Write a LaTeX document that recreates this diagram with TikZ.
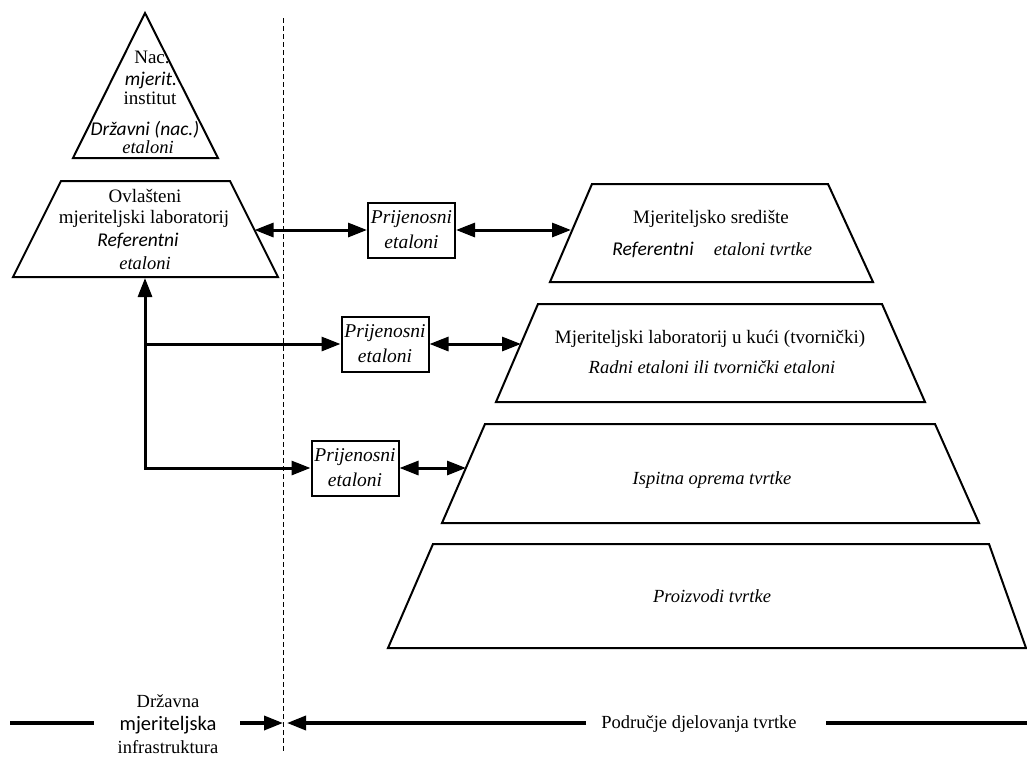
\documentclass[tikz,border=0pt]{standalone}
\usepackage{fontspec}
\setmainfont{Liberation Serif}
\newfontfamily\calib{Carlito}
\usetikzlibrary{arrows.meta}
\newcommand\fsN{\fontsize{19}{22}\selectfont}
\newcommand\fsI{\fontsize{18.5}{22}\selectfont\itshape}
\newcommand\fsC{\fontsize{19.5}{22}\selectfont\calib\itshape}
\newcommand\fsB{\fontsize{19.5}{25}\selectfont\itshape}
\newcommand\fsS{\fontsize{18.5}{20}\selectfont}
\begin{document}
\begin{tikzpicture}[x=1pt,y=-1pt,
  shp/.style={draw, line width=2pt, line join=miter},
  tipA/.tip={Triangle[length=19pt,width=14pt]},
  conn/.style={line width=3pt, -tipA},
  dconn/.style={line width=3pt, tipA-tipA},
  pbox/.style={draw, line width=2pt, minimum width=87pt, minimum height=55pt, inner sep=0pt, align=center, font=\fsB},
  txt/.style={anchor=base, inner sep=0pt},
  bline/.style={line width=3.5pt},
]
\useasboundingbox (0,0) rectangle (1027,758);
% shapes
\draw[shp] (145,13) -- (218,158) -- (73,158) -- cycle;
\draw[shp] (61,181) -- (230,181) -- (278,277) -- (13,277) -- cycle;
\draw[shp] (592,184) -- (828,184) -- (873,282) -- (550,282) -- cycle;
\draw[shp] (538,304) -- (882,304) -- (925,402) -- (496,402) -- cycle;
\draw[shp] (485,424) -- (935,424) -- (979,523) -- (442,523) -- cycle;
\draw[shp] (433,544) -- (989,544) -- (1026,648) -- (388,648) -- cycle;
% dashed divider
\coordinate (dtop) at (283,18);
\coordinate (dbot) at (283,752);
\draw[line width=1pt, dash pattern=on 5pt off 3pt] (dtop) -- (dbot);
% triangle text
\node[txt, font=\fsN] (nac) at (152,63) {Nac.};
\node[txt, font=\fsC] (mjerit) at (151,85) {mjerit.};
\node[txt, font=\fsN] (inst) at (150,104) {institut};
\node[txt, font=\fsC] (drz) at (145,135) {Državni (nac.)};
\node[txt, font=\fsI] (et0) at (148,153) {etaloni};
% trapezoid 1 text
\node[txt, font=\fsN] (ovl) at (145,202) {Ovlašteni};
\node[txt, font=\fsN] (mlab) at (144,223) {mjeriteljski laboratorij};
\node[txt, font=\fsC] (ref1) at (138,246) {Referentni};
\node[txt, font=\fsI] (et1) at (145,269) {etaloni};
% trapezoid 2 text
\node[txt, font=\fsN] (msr) at (711,223) {Mjeriteljsko središte};
\node[txt, font=\fsC] (ref2) at (653,255) {Referentni};
\node[txt, font=\fsI] (et2) at (763,255) {etaloni tvrtke};
% trapezoid 3 text
\node[txt, font=\fsN] (mlk) at (710,343) {Mjeriteljski laboratorij u kući (tvornički)};
\node[txt, font=\fsI] (rad) at (712,373) {Radni etaloni ili tvornički etaloni};
% trapezoid 4, 5 text
\node[txt, font=\fsI] (isp) at (712,484) {Ispitna oprema tvrtke};
\node[txt, font=\fsI] (pro) at (712,602) {Proizvodi tvrtke};
% transfer boxes
\node[pbox] (box1) at (411.5,230) {Prijenosni\\etaloni};
\node[pbox] (box2) at (385,344) {Prijenosni\\etaloni};
\node[pbox] (box3) at (355,468) {Prijenosni\\etaloni};
% connector end points
\coordinate (e1) at (254.5,230);
\coordinate (e2) at (571,230);
\coordinate (e3) at (521,344);
\coordinate (e4) at (466,468);
\coordinate (j1) at (145,344);
\coordinate (j2) at (145,468);
\coordinate (t1b) at (145,278);
% connectors
\draw[dconn] (e1) -- (box1.west);
\draw[dconn] (box1.east) -- (e2);
\draw[line width=3pt, line cap=rect] (j2) -- (j1);
\draw[conn] (j1) -- (t1b);
\draw[conn] (j1) -- (box2.west);
\draw[dconn] (box2.east) -- (e3);
\draw[conn] (j2) -- (box3.west);
\draw[dconn] (box3.east) -- (e4);
% bottom legend
\node[txt, font=\fsS] (drzv) at (168,707) {Državna};
\node[txt, font=\fontsize{20.5}{22}\selectfont\calib] (mji) at (168,730) {mjeriteljska};
\node[txt, font=\fsS] (infra) at (168,753) {infrastruktura};
\node[txt, font=\fsS] (podr) at (699,728) {Područje djelovanja tvrtke};
\coordinate (b0) at (10,723);
\coordinate (b1) at (94,723);
\coordinate (b2) at (240,723);
\coordinate (b3) at (283,723);
\coordinate (b4) at (287,723);
\coordinate (b5) at (586,723);
\coordinate (b6) at (826,723);
\coordinate (b7) at (1027,723);
\draw[bline] (b0) -- (b1);
\draw[bline, -tipA] (b2) -- (b3);
\draw[bline, -tipA] (b5) -- (b4);
\draw[bline] (b6) -- (b7);
\end{tikzpicture}
\end{document}
